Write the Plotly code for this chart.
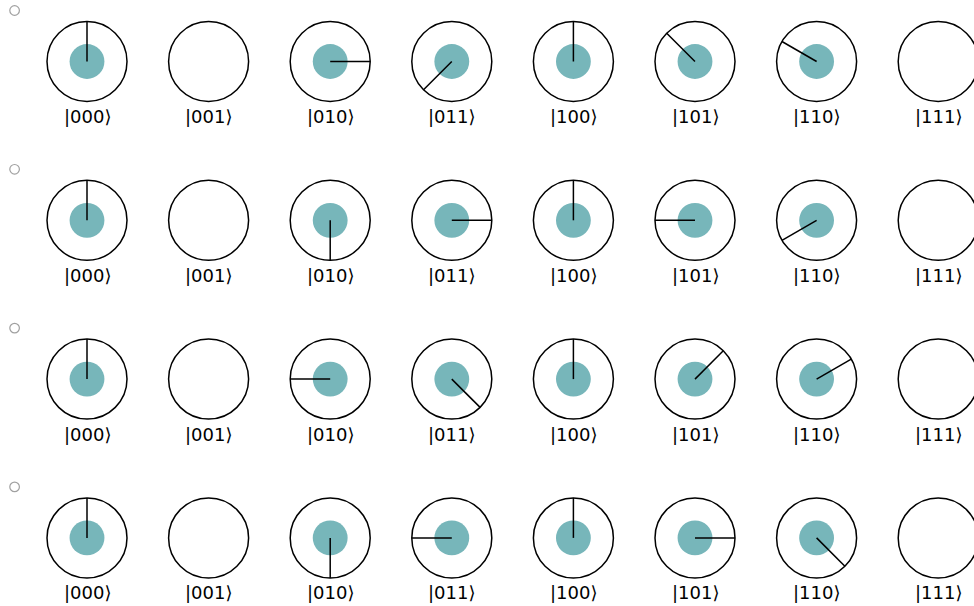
import math
import plotly.graph_objects as go

# basis state labels (columns)
states = ["000", "001", "010", "011", "100", "101", "110", "111"]

# amplitude magnitudes per row (0 = empty disk)
amps_row1 = [0.41, 0, 0.41, 0.41, 0.41, 0.41, 0.41, 0]
amps_row2 = [0.41, 0, 0.41, 0.41, 0.41, 0.41, 0.41, 0]
amps_row3 = [0.41, 0, 0.41, 0.41, 0.41, 0.41, 0.41, 0]
amps_row4 = [0.41, 0, 0.41, 0.41, 0.41, 0.41, 0.41, 0]

# phase line direction in degrees (counter-clockwise from east); None = no line
phase_row1 = [90, None, 0, 225, 90, 135, 150, None]
phase_row2 = [90, None, 270, 0, 90, 180, 210, None]
phase_row3 = [90, None, 180, 315, 90, 45, 30, None]
phase_row4 = [90, None, 270, 180, 90, 0, 315, None]

amps = [amps_row1, amps_row2, amps_row3, amps_row4]
phases = [phase_row1, phase_row2, phase_row3, phase_row4]

W, H = 974, 606
X0, DX = 87.0, 121.6
Y0, DY = 61.5, 158.8
R = 40.0
DISK_SCALE = 42.5
TEAL = "#77b6ba"

shapes = []
annotations = []
for r in range(len(amps)):
    cy = Y0 + r * DY
    # small radio-like marker at top-left of each row
    mx, my, mr = 14.6, cy - 51.0, 4.8
    shapes.append(dict(type="circle", xref="x", yref="y",
                       x0=mx - mr, x1=mx + mr, y0=my - mr, y1=my + mr,
                       line=dict(color="#a0a0a0", width=1.2), fillcolor="white", layer="above"))
    for c, lab in enumerate(states):
        cx = X0 + c * DX
        a = amps[r][c]
        if a > 0:
            rd = a * DISK_SCALE
            shapes.append(dict(type="circle", xref="x", yref="y",
                               x0=cx - rd, x1=cx + rd, y0=cy - rd, y1=cy + rd,
                               line=dict(width=0), fillcolor=TEAL, layer="above"))
        shapes.append(dict(type="circle", xref="x", yref="y",
                           x0=cx - R, x1=cx + R, y0=cy - R, y1=cy + R,
                           line=dict(color="black", width=1.5), layer="above"))
        p = phases[r][c]
        if p is not None:
            t = math.radians(p)
            shapes.append(dict(type="line", xref="x", yref="y",
                               x0=cx, y0=cy, x1=cx + R * math.cos(t), y1=cy - R * math.sin(t),
                               line=dict(color="black", width=1.5), layer="above"))
        annotations.append(dict(x=cx, y=cy + 55, xref="x", yref="y",
                                text="|" + lab + "\u27e9", showarrow=False,
                                font=dict(family="DejaVu Sans", size=18, color="black"),
                                xanchor="center", yanchor="middle"))

fig = go.Figure()
fig.add_trace(go.Scatter(x=[], y=[], showlegend=False))
fig.update_layout(
    width=W, height=H,
    margin=dict(l=0, r=0, t=0, b=0),
    paper_bgcolor="white", plot_bgcolor="white",
    xaxis=dict(range=[0, W], visible=False, fixedrange=True),
    yaxis=dict(range=[H, 0], visible=False, fixedrange=True),
    shapes=shapes, annotations=annotations, showlegend=False,
)
fig.write_html("out.html", post_script="document.body.style.margin='0';document.body.style.overflow='hidden';",
               config={"displayModeBar": False})
